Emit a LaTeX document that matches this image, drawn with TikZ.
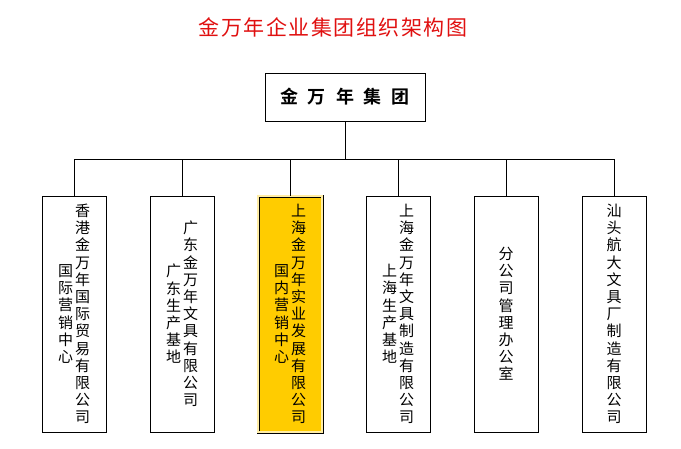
\documentclass[tikz,border=0pt]{standalone}
\usepackage{fontspec}
\newfontfamily\cjk{Noto Sans CJK SC}[BoldFont={Noto Sans CJK SC Bold}]
\definecolor{gold}{HTML}{FFCC00}
\definecolor{titlered}{HTML}{E01010}

\begin{document}
\begin{tikzpicture}[x=1pt,y=-1pt,line width=.9pt,
  unit/.style={draw,minimum width=64pt,minimum height=236pt,inner sep=0pt},
  col/.style={align=center,inner sep=0pt,font=\cjk\fontsize{15}{17.2}\selectfont}]

\def\boxy{314}
\def\colsep{8.5}
\def\gap{\hspace{10pt}}

\useasboundingbox (0,0) rectangle (681,448);

\node[text=titlered,font=\cjk\addfontfeature{LetterSpace=7}\fontsize{21}{21}\selectfont] (title) at (333,27) {金万年企业集团组织架构图};

\node[draw,minimum width=160pt,minimum height=48pt,font=\cjk\bfseries\fontsize{18}{18}\selectfont] (grp) at (345,97) {金\gap{}万\gap{}年\gap{}集\gap{}团};

\node[unit] (hk) at (74,\boxy) {};
\node[unit] (gd) at (182,\boxy) {};
\node[unit,fill=gold,double=gold!35!white,double distance=1.2pt] (sh) at (290,\boxy) {};
\node[unit] (shp) at (398,\boxy) {};
\node[unit] (off) at (506,\boxy) {};
\node[unit] (st) at (614,\boxy) {};

\coordinate (bus) at (345,159);
\draw (grp.south) -- (bus);
\draw (hk.north) |- (bus);
\draw (gd.north) |- (bus);
\draw (sh.north) |- (bus);
\draw (shp.north) |- (bus);
\draw (off.north) |- (bus);
\draw (st.north) |- (bus);

\node[col] (hk-a) at (74+\colsep,\boxy) {香\\港\\金\\万\\年\\国\\际\\贸\\易\\有\\限\\公\\司};
\node[col] (hk-b) at (74-\colsep,\boxy) {国\\际\\营\\销\\中\\心};

\node[col] (gd-a) at (182+\colsep,\boxy) {广\\东\\金\\万\\年\\文\\具\\有\\限\\公\\司};
\node[col] (gd-b) at (182-\colsep,\boxy) {广\\东\\生\\产\\基\\地};

\node[col] (sh-a) at (290+\colsep,\boxy) {上\\海\\金\\万\\年\\实\\业\\发\\展\\有\\限\\公\\司};
\node[col] (sh-b) at (290-\colsep,\boxy) {国\\内\\营\\销\\中\\心};

\node[col] (shp-a) at (398+\colsep,\boxy) {上\\海\\金\\万\\年\\文\\具\\制\\造\\有\\限\\公\\司};
\node[col] (shp-b) at (398-\colsep,\boxy) {上\\海\\生\\产\\基\\地};

\node[col] (off-a) at (506,\boxy) {分\\公\\司\\管\\理\\办\\公\\室};

\node[col] (st-a) at (614,\boxy) {汕\\头\\航\\大\\文\\具\\厂\\制\\造\\有\\限\\公\\司};
\end{tikzpicture}
\end{document}
